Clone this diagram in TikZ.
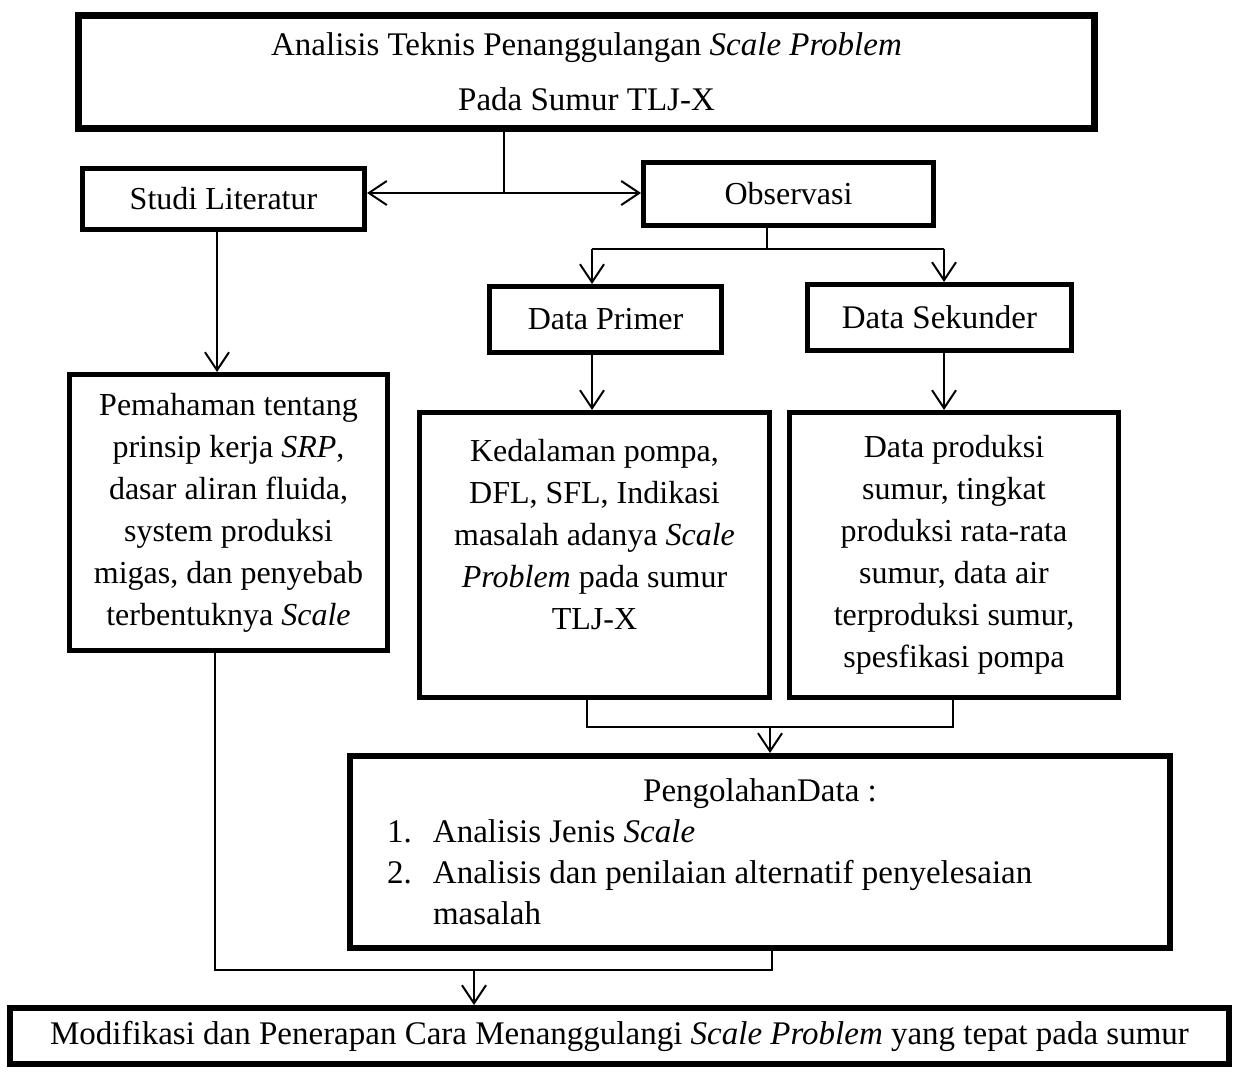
\documentclass[tikz,border=0pt]{standalone}
\usepackage{fontspec}
\setmainfont{Liberation Serif}
\usetikzlibrary{arrows.meta}
\begin{document}
\begin{tikzpicture}[x=1pt,y=-1pt,
  box/.style={draw, rectangle, line width=5pt, inner sep=0pt, align=center,
    font=\fontsize{32}{42}\selectfont},
  bigtext/.style={font=\fontsize{33}{42}\selectfont},
  conn/.style={line width=2pt},
  tip/.tip={Straight Barb[length=18pt,width=24pt]},
  arr/.style={conn, -tip},
]
\useasboundingbox (0,0) rectangle (1238,1075);
\fill[white] (0,0) rectangle (1238,1075);

% boxes
\node[box, bigtext, line width=7pt, minimum width=1016pt, minimum height=113pt] (title) at (586.5,72)
  {Analisis Teknis Penanggulangan \textit{Scale Problem}\\[13pt] Pada Sumur TLJ-X};
\node[box, minimum width=282pt, minimum height=61pt] (studi) at (223.5,199) {Studi Literatur};
\node[box, minimum width=290pt, minimum height=63pt] (obs) at (788.5,194) {Observasi};
\node[box, minimum width=232pt, minimum height=66pt] (dprimer) at (605.5,319.5) {Data Primer};
\node[box, bigtext, minimum width=264pt, minimum height=66pt] (dsek) at (939.5,317.5) {Data Sekunder};
\node[box, minimum width=318pt, minimum height=276pt] (paham) at (228.5,512.5)
  {Pemahaman tentang\\ prinsip kerja \textit{SRP},\\ dasar aliran fluida,\\ system produksi\\ migas, dan penyebab\\ terbentuknya \textit{Scale}};
\node[box, minimum width=350pt, minimum height=285pt] (dalam) at (594.5,555)
  {Kedalaman pompa,\\ DFL, SFL, Indikasi\\ masalah adanya \textit{Scale}\\ \textit{Problem} pada sumur\\ TLJ-X\\ \mbox{}};
\node[box, minimum width=329pt, minimum height=285pt] (dprod) at (954,555)
  {Data produksi\\ sumur, tingkat\\ produksi rata-rata\\ sumur, data air\\ terproduksi sumur,\\ spesfikasi pompa};
\node[box, line width=6pt, minimum width=820pt, minimum height=192pt] (olah) at (760,852)
  {\begin{minipage}{780pt}\fontsize{33}{41}\selectfont
   {\centering PengolahanData :\par}
   \raggedright
   \hspace*{17pt}\makebox[46pt][l]{1.}Analisis Jenis \textit{Scale}\par
   \hspace*{17pt}\makebox[46pt][l]{2.}Analisis dan penilaian alternatif penyelesaian\par
   \hspace*{63pt}masalah\par
   \end{minipage}};
\node[box, bigtext, line width=6pt, minimum width=1219pt, minimum height=56pt] (akhir) at (619.5,1036)
  {Modifikasi dan Penerapan Cara Menanggulangi \textit{Scale Problem} yang tepat pada sumur};

% connectors
\coordinate (j1) at (504,193);
\draw[conn] (title.south -| j1) -- (j1);
\draw[conn, tip-tip] (j1 -| studi.east) -- (j1 -| obs.west);

\coordinate (j2) at (767,249);
\coordinate (j2l) at (592,249);
\coordinate (j2r) at (944,249);
\draw[conn] (obs.south -| j2) -- (j2);
\draw[conn] (j2l) -- (j2r);
\draw[arr] (j2l) -- (j2l |- dprimer.north);
\draw[arr] (j2r) -- (j2r |- dsek.north);
\draw[arr] (dprimer.south -| j2l) -- (dalam.north -| j2l);
\draw[arr] (dsek.south -| j2r) -- (dprod.north -| j2r);

\coordinate (xs) at (217,300);
\draw[arr] (studi.south -| xs) -- (paham.north -| xs);

\coordinate (ml) at (587,727);
\coordinate (m) at (770,727);
\coordinate (mr) at (953,727);
\draw[conn] (dalam.south -| ml) -- (ml) -- (mr) -- (dprod.south -| mr);
\draw[arr] (m) -- (olah.north -| m);

\coordinate (bl) at (215,970);
\coordinate (ba) at (474,970);
\coordinate (br) at (772,970);
\draw[conn] (paham.south -| bl) -- (bl) -- (br) -- (olah.south -| br);
\draw[arr] (ba) -- (akhir.north -| ba);
\end{tikzpicture}
\end{document}
